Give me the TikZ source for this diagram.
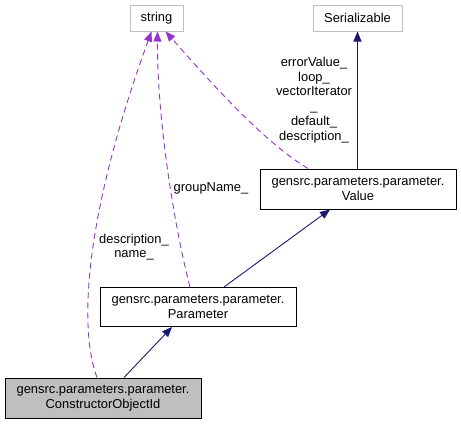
\documentclass[tikz,border=0pt]{standalone}
\usepackage{fontspec}
\setmainfont{Liberation Sans}
\usetikzlibrary{arrows.meta}
\definecolor{inh}{HTML}{191970}
\definecolor{use}{HTML}{9A32CD}
\definecolor{ext}{HTML}{BFBFBF}
\begin{document}
\begin{tikzpicture}[x=1pt,y=-1pt,
  every node/.style={font=\fontsize{12.9}{14.7}\selectfont, align=center, inner sep=0pt},
  cls/.style={draw=black, line width=1pt, minimum width=196pt},
  extcls/.style={draw=ext, line width=1pt, minimum height=26pt},
  inhedge/.style={draw=inh, line width=0.9pt, -{Triangle[length=10pt,width=8pt]}},
  useedge/.style={draw=use, line width=0.9pt, dash pattern=on 6pt off 4pt, -{Triangle[length=10pt,width=8pt]}},
  lbl/.style={text=black}]
\useasboundingbox (0,0) rectangle (461,424);
\node[extcls, minimum width=53pt] (str) at (156.5,18) {string};
\node[extcls, minimum width=89pt] (ser) at (357.5,18) {Serializable};
\node[cls, minimum height=40pt] (val) at (358,189) {gensrc.parameters.parameter.\\Value};
\node[cls, minimum height=39pt] (par) at (198,307) {gensrc.parameters.parameter.\\Parameter};
\node[cls, minimum height=40pt, fill=ext] (coi) at (103,398) {gensrc.parameters.parameter.\\ConstructorObjectId};
% inheritance
\draw[inhedge] (val.north -| ser.south) -- (ser.south);
\draw[inhedge] ([xshift=26pt]par.north) -- ([xshift=-28pt]val.south);
\draw[inhedge] ([xshift=21pt]coi.north) -- ([xshift=-26pt]par.south);
% usage
\draw[useedge] ([xshift=-6pt]coi.north) .. controls (76,320) and (90,200) .. ([xshift=-5pt]str.south);
\draw[useedge] ([xshift=-8pt]par.north) .. controls (175,230) and (157,120) .. ([xshift=1pt]str.south);
\draw[useedge] ([xshift=-50pt]val.north) .. controls (260,140) and (200,70) .. ([xshift=9pt]str.south);
% labels
\node[lbl] (l1) at (314,100) {errorValue\_\\loop\_\\vectorIterator\\\_\\default\_\\description\_};
\node[lbl] (l2) at (211,188) {groupName\_};
\node[lbl] (l3) at (134,247) {description\_\\name\_};
\end{tikzpicture}
\end{document}
